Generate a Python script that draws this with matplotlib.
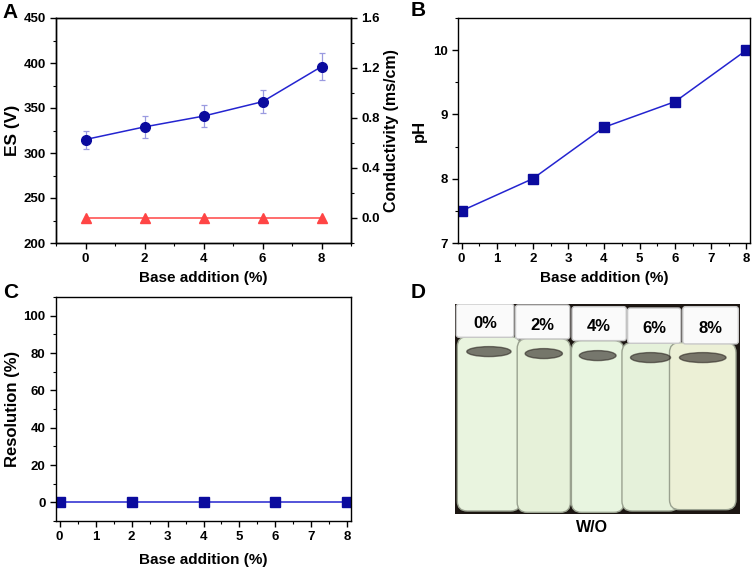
import numpy as np
import matplotlib.pyplot as plt
from matplotlib.patches import Rectangle, FancyBboxPatch, Ellipse
from matplotlib.ticker import MultipleLocator

plt.rcParams['font.family'] = ['Liberation Sans', 'DejaVu Sans']
plt.rcParams['font.weight'] = 'bold'
plt.rcParams['axes.labelweight'] = 'bold'

# data
base = [0, 2, 4, 6, 8]
es = [315, 329, 341, 357, 396]
es_err = [10, 12, 12, 13, 15]
conductivity = [0.0, 0.0, 0.0, 0.0, 0.0]
ph = [7.5, 8.0, 8.8, 9.2, 10.0]
resolution = [0, 0, 0, 0, 0]
vial_labels = ["0%", "2%", "4%", "6%", "8%"]

W, H = 754, 569
fig = plt.figure(figsize=(W / 100, H / 100), dpi=100)


def px_axes(l, t, r, b):
    return fig.add_axes([l / W, 1 - b / H, (r - l) / W, (b - t) / H])


def style(ax):
    ax.tick_params(which='major', direction='out', length=4, width=1, labelsize=9.5)
    ax.tick_params(which='minor', direction='out', length=2.5, width=0.8)
    for s in ax.spines.values():
        s.set_linewidth(1)


blue = '#0B0B9E'
line_blue = '#2424D0'
red = '#FF4545'

# ---- panel A
axA = px_axes(56, 18, 351, 243)
axA.errorbar(base, es, yerr=es_err, color=line_blue, lw=1.1, marker='o', ms=7,
             mfc=blue, mec=blue, ecolor='#9A9AE0', elinewidth=0.9, capsize=2.5, capthick=0.9)
axA.set_xlim(-1, 9)
axA.set_ylim(200, 450)
axA.xaxis.set_major_locator(MultipleLocator(2))
axA.xaxis.set_minor_locator(MultipleLocator(1))
axA.yaxis.set_major_locator(MultipleLocator(50))
axA.yaxis.set_minor_locator(MultipleLocator(25))
axA.set_xlabel("Base addition (%)", fontsize=11, labelpad=4)
axA.set_ylabel("ES (V)", fontsize=12.5)
axA.yaxis.set_label_coords(-0.122, 0.5)
style(axA)

axA2 = axA.twinx()
axA2.plot(base, conductivity, color=red, lw=1.1, marker='^', ms=7.5, mfc=red, mec=red)
axA2.set_ylim(-0.2, 1.6)
axA2.yaxis.set_major_locator(MultipleLocator(0.4))
axA2.yaxis.set_minor_locator(MultipleLocator(0.2))
axA2.set_ylabel("Conductivity (ms/cm)", fontsize=11.5)
axA2.yaxis.set_label_coords(1.112, 0.5)
style(axA2)

# ---- panel B
axB = px_axes(458, 18, 750, 243)
axB.plot(base, ph, color=line_blue, lw=1.1, marker='s', ms=7, mfc=blue, mec=blue)
axB.set_xlim(-0.1, 8.1)
axB.set_ylim(7, 10.5)
axB.xaxis.set_major_locator(MultipleLocator(1))
axB.xaxis.set_minor_locator(MultipleLocator(0.5))
axB.yaxis.set_major_locator(MultipleLocator(1))
axB.yaxis.set_minor_locator(MultipleLocator(0.5))
axB.set_xlabel("Base addition (%)", fontsize=11, labelpad=4)
axB.set_ylabel("pH", fontsize=12)
axB.yaxis.set_label_coords(-0.106, 0.5)
style(axB)

# ---- panel C
axC = px_axes(56, 297, 351, 521)
axC.plot(base, resolution, color=line_blue, lw=1.1, marker='s', ms=7, mfc=blue, mec=blue)
axC.set_xlim(-0.1, 8.1)
axC.set_ylim(-10, 110)
axC.xaxis.set_major_locator(MultipleLocator(1))
axC.xaxis.set_minor_locator(MultipleLocator(0.5))
axC.yaxis.set_major_locator(MultipleLocator(20))
axC.yaxis.set_minor_locator(MultipleLocator(10))
axC.set_xlabel("Base addition (%)", fontsize=11, labelpad=7)
axC.set_ylabel("Resolution (%)", fontsize=12)
axC.yaxis.set_label_coords(-0.122, 0.5)
style(axC)

# ---- panel D: sketch of the vial photo
axD = px_axes(455, 304, 740, 514)
axD.set_xlim(0, 857)
axD.set_ylim(631, 0)
axD.axis('off')
axD.add_patch(Rectangle((0, 0), 857, 631, color='#1c1612', zorder=0))
caps = [(4, 0, 177, 100), (182, 3, 345, 105), (352, 8, 515, 110),
        (519, 12, 679, 118), (685, 8, 852, 120)]
bodies = [(7, 98, 197, 622), (187, 104, 347, 626), (350, 110, 508, 626),
          (502, 116, 674, 622), (645, 116, 845, 618)]
fills = ['#e9f4df', '#e6f1d9', '#e8f5e0', '#e5f1da', '#ecf0d6']
for lab, (cl, ct, cr, cb), (bl, bt, br, bb), fc in zip(vial_labels, caps, bodies, fills):
    axD.add_patch(FancyBboxPatch((bl, bt), br - bl, bb - bt,
                                 boxstyle="round,pad=0,rounding_size=30",
                                 fc=fc, ec='#9aa290', lw=1, zorder=1))
    axD.add_patch(Ellipse(((bl + br) / 2, bt + 45), (br - bl) * 0.7, 30,
                          color='#2a2420', alpha=0.6, zorder=2))
    axD.add_patch(FancyBboxPatch((cl, ct), cr - cl, cb - ct,
                                 boxstyle="round,pad=0,rounding_size=8",
                                 fc='#fafafa', ec='#c8c8c8', lw=1, zorder=3))
    axD.text((cl + cr) / 2, (ct + cb) / 2 + 10, lab, ha='center', va='center',
             fontsize=12, fontweight='bold', zorder=4)

# panel letters and caption
fig.text(10 / W, 1 - 12 / H, "A", fontsize=15, fontweight='bold', ha='center', va='center')
fig.text(418 / W, 1 - 11 / H, "B", fontsize=15, fontweight='bold', ha='center', va='center')
fig.text(11 / W, 1 - 292 / H, "C", fontsize=15, fontweight='bold', ha='center', va='center')
fig.text(418 / W, 1 - 292 / H, "D", fontsize=15, fontweight='bold', ha='center', va='center')
fig.text(592 / W, 1 - 528 / H, "W/O", fontsize=11.5, fontweight='bold', ha='center', va='center')

fig.savefig("out.png", dpi=100)
